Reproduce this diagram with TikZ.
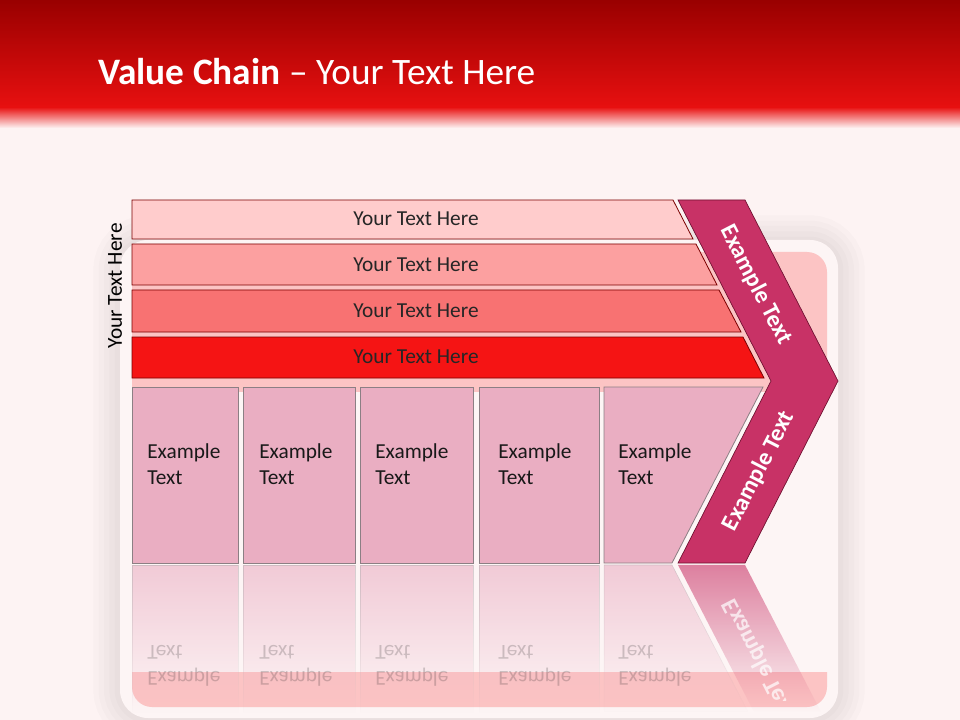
\documentclass[tikz,border=0pt]{standalone}
\usepackage{fontspec}
\setmainfont{Carlito}
\usetikzlibrary{fadings}

\definecolor{pagebg}{HTML}{FDF3F3}
\definecolor{headtop}{HTML}{990000}
\definecolor{headbot}{HTML}{E81010}
\definecolor{framefill}{HTML}{FDF5F5}
\definecolor{innerpink}{HTML}{FCC4C4}
\definecolor{barone}{HTML}{FFCCCC}
\definecolor{bartwo}{HTML}{FCA0A0}
\definecolor{barthree}{HTML}{F87272}
\definecolor{barfour}{HTML}{F51414}
\definecolor{barline}{HTML}{7A0000}
\definecolor{boxfill}{HTML}{EAAEC2}
\definecolor{boxline}{HTML}{8C7F84}
\definecolor{chevfill}{HTML}{C83266}
\definecolor{chevline}{HTML}{6E1030}

\tikzfading[name=reflfade, top color=transparent!40, bottom color=transparent!100]

\begin{document}
\begin{tikzpicture}[x=0.75pt, y=-0.75pt,
    valbar/.style={draw=barline, line width=0.6pt},
    exbox/.style={draw=boxline, fill=boxfill, line width=0.6pt},
    chev/.style={draw=chevline, fill=chevfill, line width=0.5pt},
    txt/.style={font=\fontsize{16}{19.5}\selectfont},
    bartext/.style={txt, text=black!85},
    boxtext/.style={txt, anchor=north west, align=left, text=black!90},
    chevtext/.style={font=\fontsize{18}{21}\selectfont\bfseries, text=white},
    halo/.style={black, opacity=0.015, rounded corners=21pt},
    refl/.style={path fading=reflfade}]
    \tikzstyle{every node}+=[inner sep=0pt]
    \useasboundingbox (0,0) rectangle (960,720);
    \fill [pagebg] (0,0) rectangle (960,720);
    \fill [top color=headbot, bottom color=pagebg] (0,107) rectangle (960,128);
    \fill [top color=headtop, bottom color=headbot] (0,0) rectangle (960,108);
    \node [anchor=base west, text=white, font=\fontsize{28}{34}\selectfont] (title) at (98,85) {\textbf{Value Chain} – Your Text Here};
    \draw [halo, line width=40pt] (120,242) rectangle (838,718);
    \draw [halo, line width=32pt] (120,242) rectangle (838,718);
    \draw [halo, line width=24pt] (120,242) rectangle (838,718);
    \draw [halo, line width=16pt] (120,242) rectangle (838,718);
    \draw [halo, line width=8pt] (120,242) rectangle (838,718);
    \fill [framefill, rounded corners=21pt] (120,240) rectangle (838,718);
    \fill [innerpink, rounded corners=15pt] (132,252) rectangle (827,707);
    \fill [framefill] (125,392) rectangle (830,672);
    \node [txt, rotate=90] (sidetxt) at (115,286) {Your Text Here};
    \draw [valbar, fill=barone] (132,200) -- (673,200) -- (693,239) -- (132,239) -- cycle;
    \node [bartext] (bar1) at (416,219) {Your Text Here};
    \draw [valbar, fill=bartwo] (132,244) -- (696,244) -- (717,285) -- (132,285) -- cycle;
    \node [bartext] (bar2) at (416,265) {Your Text Here};
    \draw [valbar, fill=barthree] (132,290) -- (719,290) -- (741,332) -- (132,332) -- cycle;
    \node [bartext] (bar3) at (416,311) {Your Text Here};
    \draw [valbar, fill=barfour] (132,337) -- (743,337) -- (764,378) -- (132,378) -- cycle;
    \node [bartext] (bar4) at (416,357) {Your Text Here};
    \draw [chev] (678,200) -- (745,200) -- (838,381) -- (745,563) -- (678,563) -- (771,381) -- cycle;
    \node [chevtext, rotate=-62.8] (chevtop) at (756,285) {Example Text};
    \node [chevtext, rotate=62.8] (chevbot) at (759,471) {Example Text};
    \draw [exbox] (132,387) rectangle (238,563);
    \node [boxtext] (box1) at (147,443) {Example\\Text};
    \draw [exbox] (243,387) rectangle (355,563);
    \node [boxtext] (box2) at (259,443) {Example\\Text};
    \draw [exbox] (360,387) rectangle (473,563);
    \node [boxtext] (box3) at (375,443) {Example\\Text};
    \draw [exbox] (479,387) rectangle (599,563);
    \node [boxtext] (box4) at (498,443) {Example\\Text};
    \draw [exbox] (604,387) -- (763,387) -- (672,563) -- (604,563) -- cycle;
    \node [boxtext] (box5) at (618,443) {Example\\Text};
    \path [refl, fill=boxfill, draw=boxline!60] (132,565) rectangle (238,712);
    \path [refl, fill=boxfill, draw=boxline!60] (243,565) rectangle (355,712);
    \path [refl, fill=boxfill, draw=boxline!60] (360,565) rectangle (473,712);
    \path [refl, fill=boxfill, draw=boxline!60] (479,565) rectangle (599,712);
    \path [refl, fill=boxfill, draw=boxline!60] (604,565) -- (672,565) -- (748,712) -- (604,712) -- cycle;
    \path [refl, fill=chevfill] (678,565) -- (745,565) -- (821,712) -- (754,712) -- cycle;
    \node [boxtext, yscale=-1, opacity=0.2] (refl1) at (147,687) {Example\\Text};
    \node [boxtext, yscale=-1, opacity=0.2] (refl2) at (259,687) {Example\\Text};
    \node [boxtext, yscale=-1, opacity=0.2] (refl3) at (375,687) {Example\\Text};
    \node [boxtext, yscale=-1, opacity=0.2] (refl4) at (498,687) {Example\\Text};
    \node [boxtext, yscale=-1, opacity=0.2] (refl5) at (618,687) {Example\\Text};
    \begin{scope}
    \clip (660,565) rectangle (840,700);
    \node [chevtext, rotate=-62.8, yscale=-1, opacity=0.7] (reflchev) at (759,659) {Example Text};
    \end{scope}
\end{tikzpicture}
\end{document}
